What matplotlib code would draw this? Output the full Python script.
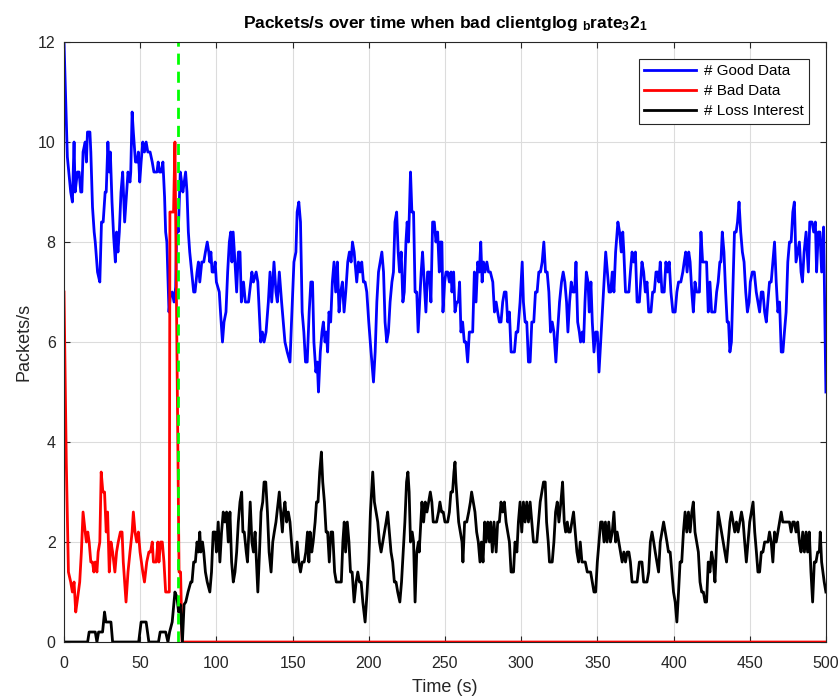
import matplotlib
matplotlib.use("Agg")
import matplotlib.pyplot as plt

plt.rcParams['font.family'] = ['Liberation Sans', 'DejaVu Sans']
plt.rcParams['mathtext.fontset'] = 'custom'
plt.rcParams['mathtext.rm'] = 'Liberation Sans:bold'
plt.rcParams['mathtext.it'] = 'Liberation Sans:bold'
plt.rcParams['mathtext.bf'] = 'Liberation Sans:bold'
plt.rcParams['mathtext.default'] = 'bf'

# packets/s per series, (time, value) samples
good_t = [0, 2.2, 4.4, 5.5, 6.6, 7.3, 8.8, 9.9, 11, 11.7, 12.5, 13.9, 14.7, 15.4, 17, 17.6, 18.7, 19.8,
          20.5, 22, 23.5, 24.6, 25.7, 27, 27.7, 28.8, 29.7, 30.4, 31.5, 32.6, 33.7, 34.5, 35.4, 36.3,
          37.4, 38.5, 39.8, 41.1, 42, 43.3, 43.8, 44.7, 45.5, 46.9, 48, 48.8, 49.7, 50.6, 51.7, 52.8,
          53.9, 55, 56.5, 57.9, 59, 61, 61.8, 62.7, 63.8, 64.9, 66, 66.7, 67.5, 68.9, 69.7, 71, 72.2,
          73.3, 74, 75, 76.3, 77.2, 78, 78.9, 79.8, 80.7, 81.6, 82.5, 83.8, 85.1, 86, 87.3, 88.2, 89.1,
          90.4, 91.7, 92.8, 94, 95, 95.7, 96.4, 97.2, 98.3, 99.2, 100, 101.9, 102.7, 104, 105, 106.3,
          107.4, 108.5, 109.4, 110.2, 111, 112.2, 113.3, 114.4, 115.5, 116.4,
          117.8, 119, 121.1, 123.3, 124.3, 126.1, 127.2, 129.1, 130.2, 131.3, 132.6, 134.1, 135.2,
          136.3, 137.8, 139.1, 140, 141.3, 142.8, 143.9, 145, 146.5, 148.3, 149.3, 150.9, 152.2, 153,
          154.1, 155.2, 156.3, 157.4, 158.5, 159.6, 160.9, 162, 163.1, 164, 165.3, 166.2, 167, 168.2,
          169.3, 170.2, 171.3, 172.2, 173, 173.9, 175, 176.1, 177.2, 178.3, 179.4, 180.5, 181.6, 182.7,
          183.8, 184.9, 186.2, 187.3, 188.4, 189.3, 190.4, 192.1, 193.2, 194.3, 195.4, 196.5, 197.6,
          198.7, 200, 201.5, 203.1, 204.2, 205.3, 206.4, 207.5, 208.6, 209.7, 210.7, 211.8, 212.9, 214,
          215.2, 216.2, 217.2, 218.3, 219.3, 220.2, 221.3, 222.4, 223.3, 224.4, 225.2, 226.1, 227.4,
          228.3, 229.4, 230.4, 231.5, 232.4,
          233.4, 234.4, 235.3, 236.4, 237.5, 238.6, 239.7, 240.8, 241.9, 243, 244.1, 245.2, 246.3,
          246.9, 248, 248.7, 249.8, 250.7, 251.8, 252.9, 254, 254.6, 255.7, 256.6, 257.7, 258.8, 259.6,
          260.5, 261.6, 262.7, 263.8, 264.9, 266, 268.2, 269.3, 270.4, 271.5, 272.6, 273.5, 274.4,
          275.3, 276.3, 277.5, 278.6, 279.8, 281.4, 282.5, 283.6, 284.6, 285.7, 286.8, 287.9, 289,
          290.1, 291.2, 292.3, 293.4, 295.6, 296.7, 297.8, 299.3, 300.7, 301.5, 302.6, 303.7, 304.8,
          305.9, 307, 308.3, 309.4, 310.5, 311.6, 312.7, 313.8, 314.9, 316, 317.1, 318.2, 319.3, 320.4,
          321.5, 322.8, 323.9, 325.2, 326.5, 327.6, 328.7, 329.8, 330.7, 331.8, 332.9, 334, 335.1, 336,
          337.1, 338.2, 339, 340.1, 341, 341.9, 342.8, 343.9, 344.7, 345.8, 346.7, 347.8, 348.9, 350,
          351.1, 352.2, 353.3, 354.4, 355.5, 356.6, 357.7, 358.8,
          359.8, 360.9, 362, 363.5, 364.6, 365.7, 366.7, 367.4, 368.5, 370.7, 371.7, 372.8, 373.9, 375,
          376.1, 377.6, 379.3, 380.4, 381.5, 382.6, 383.7, 385.2, 386.3, 387.4, 388.5, 389.6, 390.4,
          391.3, 392.4, 393.9, 395, 396.1, 397.2, 398.3, 399.6, 401.1, 402.2, 403.3, 404.8, 406.1, 407,
          408, 408.9, 410, 410.9, 412, 413, 414.1, 415.2, 417, 418, 419.1, 421.7, 422.8, 423.9, 425,
          427.2, 428.3, 429.3, 430.4, 431.1, 432, 433.1, 434.2, 435.2, 436.1, 437, 438, 439.1, 440,
          441.1, 442, 443, 444.1, 445.2, 446.3, 447.4, 448.5, 449.6, 450.4, 451.7, 453, 454.3, 455.4,
          456.5, 457.6, 458.7, 459.8, 460.9, 461.9, 463, 464.1, 465.2, 466.3, 467.4, 468.5, 469.6,
          470.7, 471.8, 472.8, 473.9, 475, 476.1, 477.2, 478.3, 479.3, 480.4, 481.5, 482.6, 483.7,
          484.6, 485.7, 487, 488.5, 489.4, 490.9, 492, 493.1, 493.9, 495, 496.1, 497.2, 498.5, 500]
good_v = [12.0, 9.7, 9.0, 8.8, 10.0, 9.0, 9.4, 9.4, 9.0, 9.0, 9.8, 10.0, 9.6, 10.2, 10.2, 9.8, 8.7, 8.2,
          8.0, 7.4, 7.2, 8.4, 8.4, 9.0, 9.0, 10.0, 9.4, 9.8, 8.8, 8.1, 7.6, 8.2, 7.8, 8.2,
          9.0, 9.4, 8.4, 9.0, 9.4, 9.2, 9.4, 10.6, 10.2, 9.6, 9.6, 9.8, 9.2, 9.6, 10.0, 9.8,
          10.0, 9.8, 9.8, 9.6, 9.4, 9.4, 9.6, 9.4, 9.4, 9.6, 8.9, 8.2, 8.0, 6.6, 6.9, 7.0, 6.8,
          7.1, 8.4, 8.2, 9.4, 9.2, 9.0, 9.2, 9.4, 9.0, 8.2, 7.8, 7.4, 7.0, 7.0, 7.4, 7.6, 7.2,
          7.6, 7.6, 7.8, 8.0, 7.8, 7.6, 7.8, 7.4, 7.4, 7.6, 7.2, 7.0, 6.6, 6.0, 6.4, 6.6,
          7.4, 8.0, 8.2, 7.6, 8.2, 7.6, 7.0, 7.8, 7.8, 6.8,
          7.2, 6.8, 6.8, 7.4, 7.2, 7.4, 7.2, 6.0, 6.2, 6.0, 6.2, 6.8, 7.4,
          6.8, 7.6, 7.0, 6.8, 7.4, 6.8, 6.4, 6.0, 5.8, 5.6, 6.4, 7.6, 7.8, 8.6,
          8.8, 8.4, 6.6, 6.2, 5.6, 5.6, 6.6, 7.2, 7.2, 6.0, 5.4, 5.6, 5.0, 5.8,
          6.2, 6.4, 6.0, 6.2, 5.8, 6.6, 6.4, 7.2, 7.6, 7.0, 7.6, 6.6, 7.0, 7.2,
          6.6, 7.0, 7.6, 7.8, 7.6, 8.0, 7.8, 7.2, 7.6, 7.4, 7.6, 7.2, 7.2,
          7.0, 6.4, 5.8, 5.2, 5.8, 6.8, 7.4, 7.6, 7.8, 7.4, 6.4, 6.0, 6.2, 6.8,
          7.2, 7.4, 8.4, 8.6, 7.8, 7.4, 7.8, 6.8, 7.0, 8.0, 8.4, 8.0, 9.4,
          8.6, 8.6, 7.0, 7.0, 6.2,
          6.8, 7.4, 7.8, 7.2, 6.6, 7.4, 7.4, 6.8, 8.4, 8.4, 8.0, 8.2, 7.4,
          8.0, 8.0, 6.6, 7.2, 7.4, 7.4, 7.2, 7.4, 7.0, 7.4, 6.6, 6.8, 6.8, 7.2,
          6.2, 6.4, 6.0, 6.0, 5.6, 6.2, 6.2, 7.4, 6.8, 7.6, 7.4, 8.0, 7.2,
          7.6, 7.4, 7.6, 7.4, 7.4, 7.2, 6.6, 6.8, 6.6, 6.4, 6.4, 6.8, 7.0,
          7.0, 6.4, 6.6, 5.8, 5.8, 6.2, 6.2, 6.8, 7.6, 6.8, 6.4, 6.4, 5.6,
          5.6, 6.4, 6.4, 7.0, 7.0, 7.4, 7.4, 7.6, 8.0, 7.4, 7.4, 7.0, 6.2, 6.4,
          6.2, 5.6, 6.2, 6.8, 7.2, 7.4, 7.2, 6.8, 6.2, 6.8, 7.2, 7.0, 7.0, 7.6,
          6.4, 6.2, 6.0, 6.2, 6.0, 6.8, 7.4, 7.2, 6.6, 7.2, 6.4, 5.8, 6.2, 6.2,
          5.4, 6.0, 6.6, 7.2, 7.8, 7.4, 7.0, 7.0,
          7.4, 7.0, 7.8, 8.4, 8.2, 7.8, 8.2, 7.8, 7.0, 7.0, 7.4, 7.8, 7.6, 7.8,
          6.8, 6.8, 7.6, 7.4, 7.0, 7.2, 6.6, 6.6, 7.0, 7.0, 7.4, 7.4, 7.2,
          7.6, 7.0, 7.0, 7.6, 7.4, 7.6, 7.0, 6.6, 6.6, 7.0, 7.2, 7.2, 7.4, 7.6,
          7.8, 7.4, 7.8, 7.6, 7.0, 6.6, 7.2, 7.0, 7.0, 8.2, 7.6, 7.6, 6.6, 7.2, 6.6,
          6.6, 7.0, 7.2, 7.6, 7.6, 8.2, 7.8, 7.0, 6.4, 6.4, 5.8, 6.0, 7.2, 8.2,
          8.2, 8.4, 8.8, 8.2, 7.8, 7.6, 7.0, 6.6, 6.8, 7.2, 7.4, 7.4, 7.0, 6.8,
          6.6, 7.0, 7.0, 6.6, 6.4, 6.8, 7.2, 7.2, 7.6, 8.0, 7.2, 6.6, 6.8,
          5.8, 5.8, 6.2, 6.6, 7.6, 8.0, 8.0, 8.6, 8.8, 7.6, 7.8, 8.0, 7.4,
          7.2, 7.8, 8.2, 7.4, 8.4, 8.4, 8.2, 8.4, 7.4, 8.2, 8.2, 7.4, 8.3, 5.0]

bad_t = [0, 1.5, 2.9, 4.4, 5.5, 6.6, 7.7, 8.8, 10.3, 11.4, 12.5, 13.9, 14.7, 15.6, 16.5, 17.6, 18.7,
         19.6, 20.5, 21.6, 22.4, 23.5, 24.4, 25.5, 26.6, 27.7, 28.6, 29.7, 30.8, 31.9, 33.4, 34.5,
         35.6, 37, 38.1, 38.9, 40.7, 42, 43.3, 44.7, 45.5, 46.6, 47.7, 48.8, 49.9, 51.7, 52.8, 54.3,
         55.7, 56.8, 57.9, 58.7, 60.5, 61.6, 62.3, 63.4, 64.5, 65.6, 66.7, 68.2, 69.1, 69.5, 71.9,
         72.8, 75.5, 76.5, 77.5, 500]
bad_v = [7.0, 3.6, 1.4, 1.2, 1.0, 1.2, 0.6, 0.85, 1.2, 1.8, 2.6, 2.2, 2.0, 2.2, 2.0, 1.6, 1.6,
         1.4, 1.6, 1.4, 1.8, 2.0, 3.4, 3.0, 3.0, 2.2, 2.6, 1.4, 2.0, 1.8, 1.4, 1.8,
         2.0, 2.2, 2.2, 1.6, 0.8, 1.4, 1.8, 2.2, 2.6, 2.2, 2.0, 2.2, 1.8, 1.4, 1.2, 1.6,
         1.8, 1.8, 2.0, 1.6, 1.6, 2.0, 1.6, 2.0, 2.0, 1.6, 1.0, 1.0, 1.0, 8.6, 8.6,
         10.0, 1.4, 1.4, 0, 0]

loss_t = [0, 15.5, 16.5, 20.5, 21.6, 22.7, 25.3, 26.6, 27.5, 30.8, 31.9, 49, 50.6, 53.9, 55.7, 62,
          63.1, 66.7, 68.2, 69.3, 71, 72.8, 74.1, 75.2, 76.3, 77.7, 78.8, 79.9, 81.4, 83.2, 84, 85.1,
          86.2, 87.3, 88.2, 89.1, 89.8, 90.9, 91.7, 92.8, 94, 95.7, 96.8, 97.9, 99.2, 100, 101.2,
          102.3, 103.4, 104.5, 105.6, 106.7, 107.8, 108.9, 110, 111.1, 112.2, 113.3, 114.4, 115.5,
          116.6,
          117.4, 118.3, 119.6, 120.4, 122.2, 123.3, 124.3, 125.4, 127.2, 128.3, 129.3, 130.4, 131.3,
          132.4, 133.5, 134.6, 135.9, 137, 138, 139.1, 140.2, 141.3, 142.2, 143.3, 144.1, 145, 146.1,
          147.2, 148.3, 149.3, 150.4, 152, 153, 154.1, 155.2, 156.3, 157.6, 158.7, 159.8, 160.7,
          161.5, 162.6, 163.5, 164.8, 165.7, 166.7, 167.8, 168.9, 169.8, 170.9, 172, 173, 174.1,
          175.2, 176.3, 177.6, 178.7, 182, 183, 183.9, 184.8, 185.9, 187, 188, 189.1, 190.4, 191.7,
          192.8, 193.9, 195, 196.1, 197.6, 198.9, 200, 201.1, 202.6, 203.7, 204.8, 205.9, 207, 208.1,
          209.2, 210.3, 211.4, 212.4, 213.5, 214.6, 215.7, 216.8, 217.9, 219, 220.4, 221.5, 222.6,
          223.7, 224.8, 225.7, 226.5, 227.4, 228.5, 229.4, 230.4, 231.5, 232.6,
          233.1, 234.9, 236, 237.1, 238.2, 239.3, 240.4, 241.4, 242.3, 244.5, 245.8, 246.7, 247.8,
          248.9, 250, 251.8, 252.9, 253.9, 255, 255.9, 256.6, 257.2, 258.1, 259, 260.1, 261.2, 261.8,
          262.9, 264.3, 265.6, 266.7, 267.5, 268.6, 269.7, 270.8, 271.9, 273, 273.9, 275, 276.1, 277,
          278.1, 279.2, 280, 281.1, 282.2, 283.6, 284.6, 285.7, 286.8, 287.9, 289, 290.1, 291.2,
          292.3, 293.4, 295, 296, 297.2, 298.2, 299.3, 300.4, 301.5, 302.6, 303.7, 304.8, 305.9, 307,
          308.1, 310.3, 311.4, 312.5, 313.6, 314.7, 315.8, 316.7, 317.8, 318.6, 320.4, 321.5, 322.6,
          323.7, 324.8, 326.1, 327.2, 328.3, 329.2, 330.3, 331.1, 332.2, 333.3, 334.4, 335.5, 336.6,
          337.7, 338.8, 339.9, 341, 342.1, 343.4, 344.5, 345.6, 346.7, 347.8, 348.9, 350, 351.1,
          352.2, 353.3, 354.4, 355.3, 356.4, 357.5, 358.6,
          359.8, 360.9, 362, 363, 364.1, 365.2, 366.3, 367.4, 368.5, 369.6, 370.7, 371.7, 372.8,
          376.1, 377.6, 379.3, 380.4, 382.6, 383.7, 384.8, 385.9, 387, 388, 389.1, 390.2, 391.3,
          392.4, 393.5, 394.6, 395.7, 396.7, 397.8, 398.9, 400, 401.1, 402.2, 403.3, 404.3, 405.4,
          406.5, 407.6, 408.7, 409.8, 410.9, 412, 413, 414.1, 415.2, 416.3, 417.4, 418.5, 419.6,
          420.7, 421.7, 422.8, 423.9, 425, 426.1, 427.2, 428.3, 429.3, 430.4, 431.5, 432.6, 433.7,
          434.8, 435.9, 437, 438, 439.1, 440.2, 441.3, 442.4, 443.5, 444.6, 445.7, 446.7, 447.8,
          448.9, 450, 451.1, 452.2, 453.3, 454.4, 455.4, 456.5, 457.6, 458.7, 459.8, 460.9, 462, 463,
          464.1, 465.2, 466.3, 467.4, 468.5, 469.6, 470.7, 471.7, 472.8, 473.9, 475, 476.1, 477.2,
          478.3, 479.3, 480.4, 481.5, 482.6, 483.7, 484.8, 485.9, 487, 488, 489.1, 490.2, 491.3,
          492.4, 493.5, 494.6, 495.7, 496.3, 497.2, 498.9, 500]
loss_v = [0, 0, 0.2, 0.2, 0, 0.2, 0.2, 0.6, 0.4, 0.4, 0, 0, 0.4, 0.4, 0, 0,
          0.2, 0.2, 0, 0.2, 0.4, 1.0, 0.9, 0.6, 0.75, 0, 0.75, 0.8, 1.0, 1.2, 1.2, 1.6,
          1.6, 2.0, 1.8, 2.2, 1.8, 2.0, 1.8, 1.4, 1.2, 1.0, 1.4, 2.2, 2.2, 1.8, 2.4,
          1.6, 2.2, 2.6, 2.4, 2.6, 2.0, 2.6, 1.6, 1.2, 1.4, 1.8, 2.4, 2.8,
          3.0,
          2.2, 2.2, 1.8, 1.6, 2.8, 2.0, 1.8, 2.2, 1.0, 1.8, 2.6, 2.8, 3.2,
          3.2, 2.6, 1.8, 1.4, 2.0, 2.2, 2.4, 2.7, 3.0, 2.6, 2.2, 2.6, 2.8, 2.4,
          2.6, 2.4, 2.0, 1.6, 1.6, 2.0, 1.6, 1.4, 1.6, 1.6, 1.8, 2.2, 1.6,
          2.2, 1.8, 2.0, 2.4, 2.8, 2.8, 3.4, 3.8, 3.2, 2.8, 2.2, 2.2, 1.6,
          2.2, 2.2, 1.4, 1.2, 1.2, 2.0, 2.4, 1.8, 2.4, 2.0, 1.4, 1.4, 0.8, 1.2,
          1.4, 1.2, 1.2, 0.8, 0.4, 1.0, 1.6, 2.6, 3.4, 2.8, 2.6, 2.4, 2.0, 1.8,
          2.0, 2.2, 2.4, 2.6, 2.2, 1.8, 1.6, 1.2, 1.2, 1.0, 0.8, 1.2, 1.8,
          2.4, 3.2, 3.4, 3.0, 2.0, 2.2, 2.0, 0.8, 1.8, 2.0,
          1.8, 2.8, 2.4, 2.8, 2.6, 2.8, 3.0, 2.8, 2.4, 2.4, 2.6, 2.8, 2.6,
          2.6, 2.4, 2.4, 2.6, 3.0, 3.0, 3.4, 3.6, 3.2, 2.8, 2.4, 2.2, 2.0, 1.6,
          2.4, 2.4, 2.6, 2.8, 3.0, 2.8, 2.6, 2.2, 2.0, 1.6, 2.0, 1.6, 2.4, 2.0,
          2.4, 2.0, 2.4, 1.8, 2.4, 1.8, 2.4, 2.4, 2.8, 2.6, 2.8, 2.4, 2.2,
          2.0, 1.4, 1.4, 2.0, 1.8, 2.4, 2.8, 2.2, 2.8, 2.4, 2.8, 2.4, 2.8, 2.4,
          2.0, 2.0, 2.4, 2.8, 3.0, 3.2, 3.2, 2.4, 2.0, 1.6, 1.6, 2.0, 2.6,
          2.8, 2.4, 2.8, 3.2, 2.4, 2.2, 2.4, 2.2, 2.2, 2.4, 2.6, 2.2, 1.8,
          1.6, 2.0, 1.6, 1.6, 1.6, 1.4, 1.4, 1.4, 1.2, 1.0, 1.0, 1.6, 2.0,
          2.4, 2.4, 2.0, 2.4, 2.0, 2.4, 2.0,
          2.2, 2.6, 2.0, 2.2, 2.0, 1.8, 1.6, 1.8, 1.6, 1.8, 1.8, 1.6, 1.2,
          1.2, 1.6, 1.6, 1.2, 1.2, 1.4, 2.0, 2.2, 2.0, 1.8, 1.6, 1.4, 2.0,
          2.2, 2.4, 2.2, 2.0, 1.8, 1.8, 1.4, 1.0, 0.8, 0.4, 1.0, 1.6, 1.6,
          2.2, 2.6, 2.2, 2.6, 2.2, 2.6, 2.8, 2.2, 2.0, 1.8, 1.2, 1.0, 1.0,
          0.8, 0.8, 1.6, 1.4, 1.8, 1.6, 1.2, 2.0, 2.6, 2.4, 2.2, 2.0, 1.8,
          1.6, 2.0, 2.4, 2.6, 2.4, 2.2, 2.4, 2.2, 2.4, 2.6, 2.4, 2.0, 1.6,
          2.0, 2.4, 2.6, 2.8, 2.2, 1.8, 1.4, 1.4, 1.8, 1.8, 2.0, 2.0, 2.0, 2.2,
          2.0, 1.6, 2.2, 2.0, 2.2, 2.4, 2.6, 2.4, 2.4, 2.4, 2.4, 2.4, 2.2,
          2.4, 2.4, 2.2, 2.4, 2.0, 1.8, 2.2, 1.8, 2.2, 1.8, 2.2, 1.4, 0.8,
          1.6, 1.6, 1.8, 1.8, 2.2, 1.6, 1.2, 1.0]

attack_time = 75

fig = plt.figure(figsize=(8.4, 6.98), dpi=100)
ax = fig.add_axes([0.0762, 0.0802, 0.907, 0.8596])

ax.plot(good_t, good_v, color='#0000ff', lw=2, label='# Good Data')
ax.plot(bad_t, bad_v, color='#ff0000', lw=2, label='# Bad Data')
ax.plot(loss_t, loss_v, color='black', lw=2, label='# Loss Interest')
ax.axvline(attack_time, color='#00ff00', lw=2, ls=(0, (4, 2.5)))

ax.set_xlim(0, 500)
ax.set_ylim(0, 12)
ax.set_xticks(range(0, 501, 50))
ax.set_yticks(range(0, 13, 2))
ax.grid(True, color='#dcdcdc', lw=0.8)
ax.set_axisbelow(True)
ax.tick_params(direction='in', top=True, right=True, labelsize=11.5,
               colors='#262626', length=4, pad=6)
ax.tick_params(axis='x', pad=10)
for s in ax.spines.values():
    s.set_color('#262626')
    s.set_linewidth(0.8)

ax.set_xlabel('Time (s)', fontsize=13, color='#262626', labelpad=6)
ax.set_ylabel('Packets/s', fontsize=13, color='#262626', labelpad=4)
ax.set_title(r'Packets/s over time when bad clientglog $_b$rate$_3$2$_1$',
             fontsize=12.5, fontweight='bold', pad=10)

leg = ax.legend(loc='upper right', fontsize=11, handlelength=3.4, fancybox=False,
                framealpha=1, edgecolor='#262626', borderaxespad=1.1,
                labelspacing=0.4, handletextpad=0.5, borderpad=0.35)
leg.get_frame().set_linewidth(0.8)

fig.savefig('out.png', dpi=100)
